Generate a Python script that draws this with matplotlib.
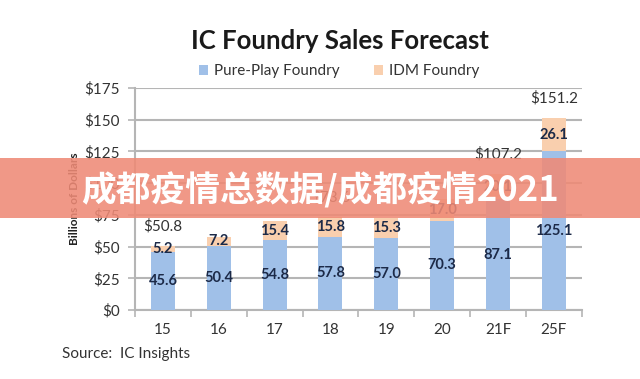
import matplotlib
matplotlib.use('Agg')
from matplotlib import pyplot as plt
from matplotlib.patches import Patch, Rectangle

plt.rcParams['font.family'] = ['Lato', 'DejaVu Sans']

# Data
years = ['15', '16', '17', '18', '19', '20', '21F', '25F']
pure_play = [45.6, 50.4, 54.8, 57.8, 57.0, 70.3, 87.1, 125.1]
idm = [5.2, 7.2, 15.4, 15.8, 15.3, 17.0, 20.1, 26.1]
total_labels = ['$50.8', '', '', '$73.6', '', '', '$107.2', '$151.2']
y_ticks = [0, 25, 50, 75, 100, 125, 150, 175]

blue = '#a0c0e8'
peach = '#f9cfae'
navy = '#1c2a48'
grid = '#b5b5b5'

fig = plt.figure(figsize=(6.4, 3.79), dpi=100)
fig.patch.set_facecolor('white')
ax = fig.add_axes([0.211, 0.182, 0.698, 0.586])

x = list(range(len(years)))
ax.bar(x, pure_play, width=0.43, color=blue, zorder=3)
ax.bar(x, idm, width=0.43, bottom=pure_play, color=peach, zorder=3)

for i in x:
    ax.text(i, pure_play[i] / 2, f'{pure_play[i]:.1f}', ha='center', va='center',
            fontsize=10.5, fontweight='bold', color=navy, zorder=4)
    ax.text(i, pure_play[i] + idm[i] / 2, f'{idm[i]:.1f}', ha='center', va='center',
            fontsize=10.5, fontweight='bold', color=navy, zorder=4)
    if total_labels[i]:
        ax.annotate(total_labels[i], (i, pure_play[i] + idm[i]), xytext=(0, 9),
                    textcoords='offset points', ha='center', va='bottom',
                    fontsize=11, color='#333333', zorder=4)

ax.set_xlim(-0.5, len(years) - 0.5)
ax.set_ylim(0, 175)
ax.set_yticks(y_ticks)
ax.set_yticklabels([f'${v}' for v in y_ticks], fontsize=11, color='#333333')
ax.set_xticks(x)
ax.set_xticklabels(years, fontsize=11, color='#333333')
ax.set_xticks([i - 0.5 for i in range(len(years) + 1)], minor=True)
ax.tick_params(axis='x', which='major', length=0, pad=9)
ax.tick_params(axis='x', which='minor', length=5, color=grid, width=1.2)
ax.tick_params(axis='y', length=5, color=grid, width=1.2, pad=6)
ax.yaxis.grid(True, color=grid, linewidth=1.5, zorder=0)
for side in ['top', 'right']:
    ax.spines[side].set_visible(False)
for side in ['left', 'bottom']:
    ax.spines[side].set_color(grid)
    ax.spines[side].set_linewidth(1.5)
ax.set_ylabel('Billions of Dollars', fontsize=8.5, fontweight='bold', color='#222222', labelpad=3)

fig.text(0.531, 0.893, 'IC Foundry Sales Forecast', ha='center', va='center',
         fontsize=18.5, fontweight='bold', color='#1a1a1a')
handles = [Patch(facecolor=blue, label='Pure-Play Foundry'),
           Patch(facecolor=peach, label='IDM Foundry')]
fig.legend(handles=handles, loc='center', bbox_to_anchor=(0.53, 0.812), ncol=2,
           frameon=False, fontsize=11, handlelength=0.6, handleheight=0.6,
           handletextpad=0.4, columnspacing=2.2, labelcolor='#333333')
fig.text(0.097, 0.066, 'Source:  IC Insights', ha='left', va='center',
         fontsize=11, color='#333333')

# Overlay banner
fig.patches.append(Rectangle((0, 1 - 218 / 379), 1, 60 / 379, transform=fig.transFigure,
                             facecolor='#ef8a76', alpha=0.88, edgecolor='none', zorder=10))
fig.text(0.5, 1 - 190 / 379, '成都疫情总数据/成都疫情2021', ha='center', va='center',
         fontsize=25, fontweight='bold', color='white', zorder=11,
         family=['Noto Sans CJK SC', 'DejaVu Sans'])

fig.savefig('out.png', dpi=100)
